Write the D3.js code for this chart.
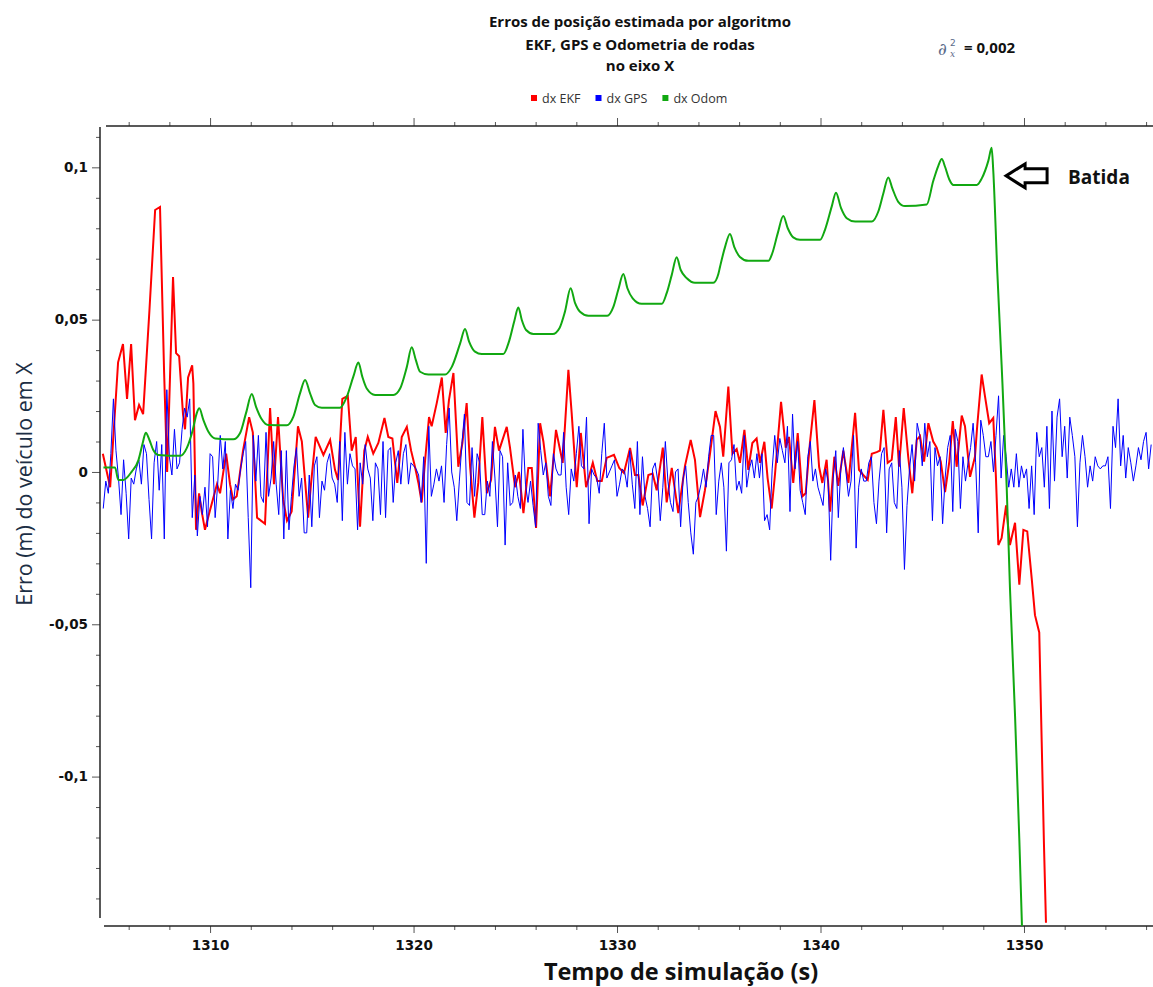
<!DOCTYPE html>
<html>
<head>
<meta charset="utf-8">
<script src="https://cdn.jsdelivr.net/npm/d3@7"></script>
<style>
  body { margin: 0; background: #fff; }
  svg { display: block; }
</style>
</head>
<body>
<svg id="chart" width="1153" height="987"></svg>
<script>

const titleLines = ["Erros de posição estimada por algoritmo", "EKF, GPS e Odometria de rodas", "no eixo X"]
const xTitle = "Tempo de simulação (s)"
const yTitle = "Erro (m) do veículo em X"
const sigmaValue = "= 0,002"

const yTicks = [-0.1, -0.05, 0, 0.05, 0.1]
const xTicks = [1310, 1320, 1330, 1340, 1350]

const legendItems = [
  { label: "dx EKF",  color: "#ff0000" },
  { label: "dx GPS",  color: "#0000ff" },
  { label: "dx Odom", color: "#11a811" }
]

// crash marker (time, value)
const batida = [1349.12, 0.0972]

// EKF error [t (s), dx (m)]
const dxEkf = [
  [1304.73, 0.006], [1305.09, -0.005], [1305.48, 0.036], [1305.72, 0.042], [1305.92, 0.024],
  [1306.12, 0.042], [1306.31, 0.017], [1306.51, 0.022], [1306.71, 0.019], [1307.02, 0.053],
  [1307.30, 0.086], [1307.54, 0.087], [1307.74, 0.033], [1307.89, 0.0], [1308.18, 0.064],
  [1308.33, 0.039], [1308.48, 0.038], [1308.67, 0.019], [1308.77, 0.014], [1308.92, 0.031],
  [1309.12, 0.035], [1309.18, 0.029], [1309.31, -0.019], [1309.46, -0.007], [1309.59, -0.013],
  [1309.75, -0.019], [1310.00, -0.0125], [1310.34, -0.004], [1310.49, -0.007], [1310.79, 0.006],
  [1310.98, -0.004], [1311.13, -0.009], [1311.31, -0.008], [1311.62, 0.007], [1311.92, 0.018],
  [1312.10, 0.013], [1312.31, -0.015], [1312.70, -0.017], [1312.95, 0.021], [1313.14, -0.004],
  [1313.34, 0.018], [1313.59, -0.009], [1313.78, -0.016], [1314.01, -0.013], [1314.32, 0.015],
  [1314.51, 0.010], [1314.67, -0.003], [1314.82, -0.015], [1314.96, -0.004], [1315.19, 0.0115],
  [1315.57, 0.0056], [1315.90, 0.0105], [1316.14, 0.0007], [1316.29, -0.0026], [1316.50, 0.024],
  [1316.77, 0.025], [1316.96, 0.007], [1317.16, 0.0115], [1317.37, -0.018], [1317.58, 0.007],
  [1317.75, 0.0115], [1318.02, 0.006], [1318.27, 0.0095], [1318.57, 0.0177], [1318.76, 0.0115],
  [1318.96, 0.011], [1319.20, -0.0036], [1319.42, 0.0115], [1319.67, 0.0148], [1319.88, 0.007],
  [1320.07, 0.0017], [1320.24, -0.0036], [1320.40, -0.010], [1320.57, 0.004], [1320.76, 0.018],
  [1320.89, 0.015], [1321.14, 0.0226], [1321.39, 0.031], [1321.58, 0.0128], [1321.74, 0.0236],
  [1321.96, 0.0325], [1322.20, 0.0017], [1322.40, 0.0095], [1322.61, 0.0226], [1322.78, 0.0017],
  [1322.99, -0.015], [1323.18, -0.0036], [1323.38, 0.018], [1323.60, -0.007], [1323.81, -0.0026],
  [1324.00, 0.0148], [1324.20, 0.007], [1324.58, 0.0148], [1324.74, 0.008], [1324.99, -0.005],
  [1325.18, 0.0], [1325.40, -0.0135], [1325.64, 0.0013], [1325.81, 0.0013], [1326.02, -0.0184],
  [1326.22, 0.016], [1326.38, 0.01], [1326.71, -0.008], [1327.00, 0.0138], [1327.33, 0.003],
  [1327.61, 0.0335], [1327.77, 0.0194], [1328.02, -0.005], [1328.22, 0.0128], [1328.48, -0.005],
  [1328.81, 0.003], [1329.03, -0.003], [1329.25, -0.003], [1329.49, 0.0046], [1329.85, 0.0056],
  [1330.11, 0.0013], [1330.34, -0.0003], [1330.64, 0.0079], [1330.88, -0.001], [1331.05, -0.001],
  [1331.26, -0.011], [1331.54, -0.001], [1331.75, -0.0005], [1331.95, -0.006], [1332.25, 0.008],
  [1332.44, -0.010], [1332.69, 0.0013], [1333.01, -0.0135], [1333.34, 0.002], [1333.62, 0.0105],
  [1333.83, 0.004], [1334.08, -0.0148], [1334.32, -0.006], [1334.57, 0.006], [1334.84, 0.020],
  [1335.06, 0.0148], [1335.22, 0.005], [1335.47, 0.028], [1335.67, 0.006], [1335.88, 0.0075],
  [1336.04, 0.003], [1336.26, 0.0138], [1336.45, 0.0007], [1336.65, 0.0095], [1336.86, 0.011],
  [1337.03, 0.003], [1337.24, 0.0099], [1337.40, -0.002], [1337.60, -0.012], [1337.76, -0.001],
  [1338.06, 0.023], [1338.29, 0.008], [1338.45, 0.0115], [1338.66, -0.0036], [1338.88, 0.0128],
  [1339.11, -0.008], [1339.27, -0.007], [1339.48, 0.0095], [1339.70, 0.0236], [1339.93, 0.0017],
  [1340.09, -0.0036], [1340.30, 0.004], [1340.47, -0.013], [1340.68, 0.005], [1340.87, -0.0046],
  [1341.12, 0.007], [1341.37, -0.0036], [1341.70, 0.0194], [1341.89, 0.0007], [1342.10, -0.001],
  [1342.32, -0.0026], [1342.52, 0.006], [1342.76, 0.0065], [1342.92, 0.007], [1343.09, 0.0204],
  [1343.30, 0.003], [1343.50, 0.004], [1343.70, 0.018], [1343.86, 0.0017], [1344.09, 0.021],
  [1344.31, 0.005], [1344.51, -0.007], [1344.73, 0.0105], [1344.89, 0.0118], [1345.09, 0.0034],
  [1345.30, 0.016], [1345.54, 0.010], [1345.71, 0.008], [1345.91, 0.0034], [1346.12, -0.0066],
  [1346.33, 0.0034], [1346.50, 0.0167], [1346.69, 0.0017], [1346.94, 0.0185], [1347.10, 0.015],
  [1347.35, -0.0016], [1347.59, 0.005], [1347.70, 0.015], [1347.92, 0.032], [1348.08, 0.025],
  [1348.29, 0.016], [1348.49, 0.0177], [1348.62, -0.0016], [1348.74, -0.024], [1348.90, -0.0217],
  [1349.12, -0.011], [1349.31, -0.024], [1349.56, -0.0167], [1349.77, -0.037], [1349.97, -0.019],
  [1350.16, -0.0195], [1350.38, -0.035], [1350.54, -0.047], [1350.75, -0.0527], [1350.87, -0.0886],
  [1350.98, -0.122], [1351.08, -0.148]
]

// GPS error, one sample every gpsStep seconds, in mm
const gpsStart = 1304.75
const gpsStep = 0.125
const dxGpsMm = [
  -12, -3, -7, 6, 24, 7, -2, -14, 4, -7, -22, -2, -4, 1, 4, -4, 9, 6, -9, -22,
  3, 10, -6, 9, -22, 27, 5, -1, 14, 1, 3, 14, 21, 18, 24, -15, -1, -21, -8, -14,
  -5, -18, 6, 5, -15, -4, 12, 1, 10, -22, -6, -12, -4, -6, 1, 6, 10, -15, -38, 12,
  -3, 12, -8, -10, 13, -8, -2, 10, -4, -14, 7, -22, 7, -19, -8, 2, 8, -8, -2, -20,
  -20, -1, -18, 2, 5, -15, -3, -6, 3, 6, -2, -4, -10, 10, -16, 13, -4, 6, 2, 1,
  -19, 3, -4, 9, 1, -2, -16, 3, 1, -14, 10, -15, 7, 8, -10, 3, 7, -4, 6, 9,
  -4, 3, 2, 1, -1, -10, 5, -30, 15, -8, -4, 1, -3, 2, -10, 9, 21, 0, -5, -16,
  -3, 9, 19, -10, -11, 8, -8, 6, 3, -14, -14, -3, -8, 10, -2, -18, 7, 5, -24, 3,
  -11, -10, -1, -8, -12, 14, -4, -10, -3, -11, -18, 16, 7, -1, 3, -8, -11, 6, 1, -1,
  -1, 13, -5, -14, 1, -3, 6, 15, 2, 1, 18, -17, 1, -1, -2, -7, 6, 16, -2, 0,
  2, 4, -8, -4, 1, 0, -5, 7, -4, -12, 10, -14, 5, -8, -12, -18, 1, 3, -3, -16,
  -5, 10, -3, -10, -13, 0, 1, -18, -2, 2, -10, -20, -27, -10, -8, -4, 1, -5, 5, 12,
  12, -14, -3, 3, -5, -26, 3, 4, 9, -6, -3, -7, 12, -5, 1, 4, -2, 6, -2, 6,
  -16, -14, -19, 1, 12, 3, 11, 7, 3, 15, -13, 19, 1, 10, -6, -10, -14, 5, 10, -3,
  1, -5, -8, -11, 1, -3, -29, -2, 7, -15, 1, 8, 0, -8, -3, 12, -25, -5, 1, -3,
  -3, 3, 5, -10, -17, -3, 6, 8, -20, 1, 3, -10, -12, 7, -5, -32, -11, 1, 9, -3,
  16, 12, 2, 16, 5, 10, -16, 8, 2, 5, -17, -2, 8, 12, -13, 14, 10, -12, 5, -3,
  3, 8, 16, 3, -20, 17, 12, 5, 5, 10, 0, 12, 25, -2, 12, 5, -5, 1, -5, 6,
  -5, 2, -2, 1, -12, 2, -14, 13, 5, 8, -5, 15, -12, 20, -3, 18, 24, 5, 15, -2,
  18, 12, 5, -18, 3, 12, 5, -5, 2, -3, 5, 2, 1, 2, 2, 5, -12, 15, 8, 24,
  2, 12, -2, 8, 3, -3, 2, 8, 4, 10, 13, 1, 9
]

// wheel odometry error [t (s), dx (m)]
const dxOdom = [
  [1304.76, 0.0015], [1305.33, 0.0015], [1305.49, -0.0026], [1305.74, -0.0026], [1306.15, 0.0001],
  [1306.48, 0.0039], [1306.69, 0.0095], [1306.84, 0.0129], [1307.02, 0.0105], [1307.21, 0.0072],
  [1307.46, 0.0056], [1308.53, 0.0053], [1308.86, 0.0079], [1309.15, 0.0138], [1309.35, 0.0194],
  [1309.47, 0.0209], [1309.67, 0.0171], [1309.92, 0.0132], [1310.25, 0.011], [1311.14, 0.0107],
  [1311.47, 0.0127], [1311.77, 0.0194], [1312.05, 0.0256], [1312.26, 0.0214], [1312.54, 0.0173],
  [1312.86, 0.0154], [1313.77, 0.0153], [1314.09, 0.0181], [1314.42, 0.0258], [1314.67, 0.0302],
  [1314.91, 0.0259], [1315.16, 0.022], [1315.49, 0.0211], [1316.39, 0.0211], [1316.72, 0.0247],
  [1317.04, 0.0313], [1317.29, 0.0359], [1317.48, 0.0313], [1317.70, 0.0274], [1318.11, 0.0253],
  [1319.01, 0.0253], [1319.34, 0.0274], [1319.67, 0.0345], [1319.91, 0.0409], [1320.11, 0.0368],
  [1320.32, 0.0329], [1320.73, 0.032], [1321.55, 0.032], [1321.88, 0.0345], [1322.29, 0.0422],
  [1322.53, 0.0469], [1322.73, 0.0428], [1323.02, 0.0395], [1323.35, 0.0387], [1324.41, 0.0387],
  [1324.69, 0.0428], [1324.95, 0.0495], [1325.15, 0.054], [1325.32, 0.0499], [1325.53, 0.0466],
  [1325.89, 0.0453], [1326.84, 0.0453], [1327.17, 0.0472], [1327.44, 0.0526], [1327.72, 0.0603],
  [1327.94, 0.0554], [1328.18, 0.0526], [1328.59, 0.0513], [1329.52, 0.0513], [1329.82, 0.0542],
  [1330.06, 0.0598], [1330.31, 0.065], [1330.51, 0.0603], [1330.77, 0.057], [1331.21, 0.0552],
  [1332.20, 0.0552], [1332.44, 0.0587], [1332.69, 0.0647], [1332.93, 0.0705], [1333.13, 0.0663],
  [1333.43, 0.0636], [1333.83, 0.0621], [1334.73, 0.0621], [1334.98, 0.065], [1335.06, 0.0673],
  [1335.31, 0.0739], [1335.55, 0.0781], [1335.76, 0.0739], [1336.04, 0.0706], [1336.45, 0.0693],
  [1337.44, 0.0693], [1337.63, 0.0718], [1337.90, 0.0784], [1338.17, 0.084], [1338.39, 0.08],
  [1338.66, 0.077], [1338.99, 0.0762], [1339.98, 0.0762], [1340.22, 0.0795], [1340.55, 0.0871],
  [1340.76, 0.0917], [1341.01, 0.0866], [1341.29, 0.0833], [1341.70, 0.0822], [1342.52, 0.0822],
  [1342.84, 0.0855], [1343.09, 0.0915], [1343.33, 0.0967], [1343.53, 0.0931], [1343.82, 0.0887],
  [1344.15, 0.0873], [1345.22, 0.0878], [1345.54, 0.0955], [1345.79, 0.1005], [1345.96, 0.1027],
  [1346.12, 0.1002], [1346.33, 0.096], [1346.53, 0.0942], [1347.68, 0.0942], [1347.92, 0.0963],
  [1348.25, 0.1022], [1348.41, 0.1064], [1348.49, 0.0989], [1348.69, 0.0654], [1348.90, 0.0352],
  [1349.15, -0.005], [1349.31, -0.038], [1349.56, -0.080], [1349.77, -0.1205], [1349.90, -0.149]
]

const svg = d3.select("#chart")
const fmt = d => String(d).replace(".", ",")

const x = d3.scaleLinear().domain([1304.64, 1356.34]).range([101, 1153])
const y = d3.scaleLinear().domain([-0.14905, 0.1139]).range([926, 125])

svg.append("rect").attr("width", 1153).attr("height", 987).attr("fill", "#fff")

svg.append("defs").append("clipPath").attr("id", "plot")
  .append("rect").attr("x", 101).attr("y", 125).attr("width", 1052).attr("height", 801)

// title
svg.append("g")
  .selectAll("text")
  .data(titleLines)
  .enter().append("text")
  .attr("x", 640)
  .attr("y", (d, i) => [27, 50, 71][i])
  .attr("text-anchor", "middle")
  .style("font", "bold 15px 'Open Sans'")
  .attr("fill", "#111")
  .text(d => d)

// sigma note
const sig = svg.append("g")
sig.append("text").attr("x", 938).attr("y", 55)
  .style("font", "italic 17px 'DejaVu Serif'").attr("fill", "#5b6b8a").text("∂")
sig.append("text").attr("x", 950).attr("y", 46)
  .style("font", "9px 'DejaVu Sans'").attr("fill", "#5b6b8a").text("2")
sig.append("text").attr("x", 950).attr("y", 57)
  .style("font", "italic 9px 'DejaVu Serif'").attr("fill", "#5b6b8a").text("x")
sig.append("text").attr("x", 964).attr("y", 53)
  .style("font", "bold 15px 'Open Sans'").attr("fill", "#111").text(sigmaValue)

// legend
let lx = 531
legendItems.forEach(item => {
  svg.append("rect").attr("x", lx).attr("y", 95).attr("width", 6).attr("height", 6).attr("fill", item.color)
  const t = svg.append("text").attr("x", lx + 11).attr("y", 102.5)
    .style("font", "12.5px 'Open Sans'").attr("fill", "#333").text(item.label)
  lx += 11 + t.node().getComputedTextLength() + 15
})

// axes: minor ticks first, then majors
const yMinor = d3.range(-14, 12).map(i => i / 100).filter(v => Math.round(v * 100) % 5 !== 0)
const xMinor = d3.range(1306, 1357, 2).filter(v => v % 10 !== 0)

function styleAxis(g) {
  g.select(".domain").remove()
  g.selectAll(".tick line").attr("stroke", "#555")
  g.selectAll(".tick text").attr("fill", "#111").style("font", "bold 13.5px 'DejaVu Sans'")
}

svg.append("g").attr("transform", "translate(100,0)")
  .call(d3.axisLeft(y).tickValues(yMinor).tickSize(4).tickFormat(""))
  .call(styleAxis)
svg.append("g").attr("transform", "translate(100,0)")
  .call(d3.axisLeft(y).tickValues(yTicks).tickSize(8).tickPadding(4).tickFormat(fmt))
  .call(styleAxis)

svg.append("g").attr("transform", "translate(0,926)")
  .call(d3.axisBottom(x).tickValues(xMinor).tickSize(4).tickFormat(""))
  .call(styleAxis)
svg.append("g").attr("transform", "translate(0,926)")
  .call(d3.axisBottom(x).tickValues(xTicks).tickSize(7).tickPadding(7).tickFormat(d3.format("d")))
  .call(styleAxis)

svg.append("g").attr("transform", "translate(0,126)")
  .call(d3.axisTop(x).tickValues(xMinor).tickSize(4).tickFormat(""))
  .call(styleAxis)
svg.append("g").attr("transform", "translate(0,126)")
  .call(d3.axisTop(x).tickValues(xTicks).tickSize(8).tickFormat(""))
  .call(styleAxis)

// axis lines
const axisLines = [[100, 127, 100, 918], [104, 926, 1153, 926], [106, 126, 1153, 126]]
svg.append("g")
  .selectAll("line")
  .data(axisLines)
  .enter().append("line")
  .attr("x1", d => d[0]).attr("y1", d => d[1])
  .attr("x2", d => d[2]).attr("y2", d => d[3])
  .attr("stroke", "#222")
  .attr("stroke-width", 1.5)

// series
const line = d3.line().x(d => x(d[0])).y(d => y(d[1]))
const dxGps = dxGpsMm.map((v, i) => [gpsStart + i * gpsStep, v / 1000])

const plot = svg.append("g").attr("clip-path", "url(#plot)")

plot.append("path").datum(dxEkf)
  .attr("d", line)
  .attr("fill", "none").attr("stroke", legendItems[0].color).attr("stroke-width", 2)

plot.append("path").datum(dxGps)
  .attr("d", line)
  .attr("fill", "none").attr("stroke", legendItems[1].color).attr("stroke-width", 1)

plot.append("path").datum(dxOdom)
  .attr("d", line.curve(d3.curveMonotoneX))
  .attr("fill", "none").attr("stroke", legendItems[2].color).attr("stroke-width", 2)

// "Batida" annotation
const bx = x(batida[0]), by = y(batida[1])
svg.append("path")
  .attr("transform", `translate(${bx},${by})`)
  .attr("d", "M0,0 L19,-12 L19,-7 L41,-7 L41,7 L19,7 L19,12 Z")
  .attr("fill", "#fff").attr("stroke", "#000").attr("stroke-width", 3)
svg.append("text")
  .attr("x", bx + 62).attr("y", by + 8)
  .style("font", "bold 19px 'Open Sans'").attr("fill", "#111")
  .text("Batida")

// axis titles
svg.append("text")
  .attr("x", 681).attr("y", 980)
  .attr("text-anchor", "middle")
  .style("font", "bold 23.5px 'Open Sans'").attr("fill", "#111")
  .text(xTitle)

svg.append("text")
  .attr("transform", "translate(32,484) rotate(-90)")
  .attr("text-anchor", "middle")
  .style("font", "21.5px 'Open Sans'").attr("fill", "#1c2e44")
  .text(yTitle)

</script>
</body>
</html>
